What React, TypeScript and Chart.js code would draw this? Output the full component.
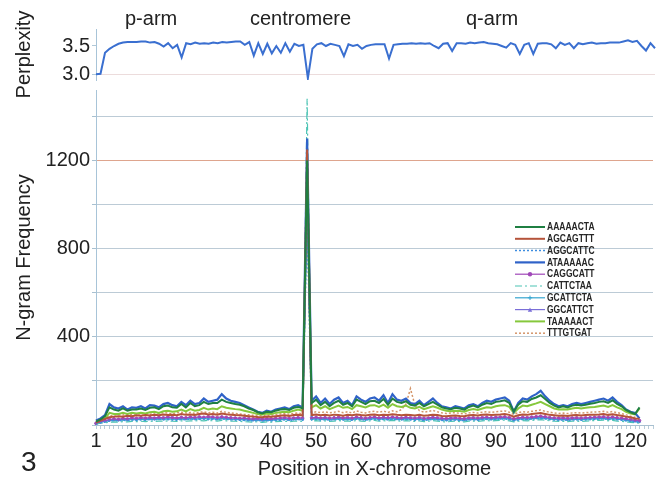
import React, { useEffect, useRef } from "react";
import { Chart, registerables } from "chart.js";
Chart.register(...registerables);

const FONT = "'Liberation Sans', Arial, Helvetica, sans-serif";

const POSITIONS: string[] = Array.from({ length: 125 }, (_, i) => String(i + 1));
const X_TICK_LABELS = ["1", "10", "20", "30", "40", "50", "60", "70", "80", "90", "100", "110", "120"];
const PERP_TICKS = [3.0, 3.5];
const FREQ_TICKS = [0, 200, 400, 600, 800, 1000, 1200, 1400];
const FREQ_LABELS = [400, 800, 1200];
const REGION_LABELS = ["p-arm", "centromere", "q-arm"];

const PERPLEXITY = [
  3.00, 3.01, 3.38, 3.45, 3.50, 3.54, 3.56, 3.57, 3.57, 3.57,
  3.58, 3.58, 3.56, 3.57, 3.54, 3.49, 3.55, 3.46, 3.52, 3.30,
  3.55, 3.53, 3.56, 3.54, 3.55, 3.54, 3.56, 3.55, 3.57, 3.56,
  3.57, 3.58, 3.58, 3.52, 3.57, 3.33, 3.55, 3.36, 3.54, 3.37,
  3.50, 3.38, 3.55, 3.40, 3.54, 3.50, 3.52, 2.93, 3.45, 3.53,
  3.55, 3.50, 3.54, 3.52, 3.50, 3.32, 3.53, 3.50, 3.52, 3.45,
  3.50, 3.52, 3.53, 3.53, 3.53, 3.28, 3.52, 3.53, 3.54, 3.54,
  3.55, 3.54, 3.55, 3.54, 3.55, 3.50, 3.46, 3.54, 3.55, 3.41,
  3.55, 3.55, 3.54, 3.56, 3.55, 3.56, 3.57, 3.55, 3.54, 3.53,
  3.50, 3.47, 3.55, 3.52, 3.36, 3.52, 3.55, 3.36, 3.54, 3.55,
  3.55, 3.53, 3.46, 3.56, 3.52, 3.55, 3.46, 3.55, 3.53, 3.55,
  3.56, 3.54, 3.55, 3.55, 3.56, 3.56, 3.56, 3.58, 3.60, 3.57,
  3.59, 3.50, 3.42, 3.55, 3.46,
];

const AAAAACTA = [
  15, 25, 40, 80, 70, 65, 75, 65, 70, 70,
  75, 68, 78, 80, 72, 85, 88, 80, 78, 95,
  80, 100, 85, 90, 105, 95, 100, 100, 115, 105,
  100, 95, 92, 85, 75, 68, 58, 52, 60, 58,
  65, 70, 72, 68, 78, 82, 75, 1200, 100, 115,
  90, 105, 85, 100, 110, 92, 100, 85, 115, 105,
  95, 108, 110, 100, 118, 92, 120, 105, 100, 108,
  92, 88, 100, 85, 95, 105, 92, 80, 75, 72,
  78, 75, 70, 82, 88, 80, 92, 100, 95, 105,
  108, 112, 100, 62, 92, 108, 105, 118, 125, 135,
  118, 100, 88, 80, 85, 80, 88, 92, 88, 92,
  96, 100, 105, 108, 100, 112, 96, 85, 68, 58,
  50, 80, null, null, null,
];
const AGCAGTTT = [
  10, 20, 28, 35, 38, 40, 38, 42, 40, 44,
  42, 45, 43, 46, 44, 48, 45, 47, 44, 50,
  46, 48, 45, 50, 52, 48, 50, 47, 52, 49,
  47, 45, 44, 42, 40, 38, 36, 35, 38, 37,
  40, 42, 44, 41, 45, 46, 43, 1250, 45, 48,
  44, 46, 43, 47, 45, 42, 46, 44, 48, 45,
  43, 46, 48, 44, 47, 45, 49, 46, 44, 47,
  45, 43, 46, 42, 44, 47, 45, 41, 40, 42,
  43, 41, 40, 44, 45, 43, 46, 48, 45, 47,
  48, 50, 46, 38, 44, 48, 46, 50, 52, 54,
  50, 46, 44, 42, 43, 41, 44, 45, 43, 45,
  46, 47, 48, 50, 46, 49, 45, 42, 38, 35,
  30, 28, null, null, null,
];
const AGGCATTC = [
  5, 10, 14, 18, 20, 19, 22, 20, 23, 21,
  24, 22, 25, 23, 26, 24, 25, 23, 22, 26,
  24, 27, 25, 26, 28, 25, 27, 24, 28, 26,
  24, 23, 22, 21, 20, 19, 21, 18, 20, 19,
  21, 22, 24, 21, 23, 25, 22, 950, 24, 26,
  23, 25, 22, 24, 26, 23, 25, 22, 27, 24,
  22, 25, 27, 23, 26, 24, 27, 25, 23, 26,
  24, 22, 25, 21, 23, 26, 24, 21, 20, 22,
  23, 21, 20, 23, 24, 22, 25, 26, 24, 26,
  27, 28, 25, 19, 23, 26, 25, 27, 29, 30,
  28, 25, 23, 22, 23, 21, 23, 24, 22, 24,
  25, 26, 27, 28, 25, 27, 24, 22, 19, 17,
  14, 12, null, null, null,
];
const ATAAAAAC = [
  20, 30, 45, 95, 80, 75, 85, 70, 80, 78,
  85, 75, 90, 88, 80, 95, 100, 90, 85, 105,
  90, 110, 95, 100, 120, 105, 110, 115, 140, 120,
  110, 105, 100, 90, 80, 70, 60, 55, 65, 60,
  70, 75, 80, 72, 85, 90, 80, 1300, 110, 130,
  100, 120, 95, 115, 125, 100, 110, 90, 130, 115,
  105, 120, 125, 110, 135, 100, 140, 115, 110, 120,
  100, 95, 110, 90, 105, 120, 100, 85, 80, 75,
  85, 80, 75, 90, 95, 85, 100, 110, 105, 115,
  120, 125, 110, 60, 100, 120, 115, 130, 140, 155,
  130, 110, 95, 85, 90, 85, 95, 100, 95, 100,
  105, 110, 115, 120, 110, 125, 105, 90, 70, 60,
  55, 30, null, null, null,
];
const CAGGCATT = [
  8, 15, 20, 25, 28, 26, 30, 28, 32, 30,
  33, 31, 34, 32, 35, 33, 36, 34, 32, 35,
  33, 36, 34, 37, 35, 38, 36, 34, 37, 35,
  33, 32, 30, 31, 29, 28, 30, 27, 29, 28,
  30, 31, 33, 30, 32, 34, 31, 1050, 33, 35,
  32, 34, 31, 33, 35, 32, 34, 31, 36, 33,
  31, 34, 36, 32, 35, 33, 36, 34, 32, 35,
  33, 31, 34, 30, 32, 35, 33, 30, 29, 31,
  32, 30, 29, 32, 33, 31, 34, 35, 33, 35,
  36, 37, 34, 28, 32, 35, 34, 36, 38, 40,
  37, 34, 32, 31, 32, 30, 32, 33, 31, 33,
  34, 35, 36, 37, 34, 36, 33, 31, 28, 25,
  22, 20, null, null, null,
];
const CATTCTAA = [
  4, 8, 10, 12, 14, 13, 15, 14, 16, 15,
  17, 15, 18, 16, 18, 17, 19, 17, 16, 19,
  17, 19, 18, 20, 19, 21, 19, 18, 21, 19,
  18, 17, 16, 15, 14, 13, 15, 12, 14, 13,
  15, 16, 17, 15, 17, 18, 16, 1480, 18, 20,
  17, 19, 16, 18, 20, 17, 19, 16, 21, 18,
  16, 19, 21, 17, 20, 18, 21, 19, 17, 20,
  18, 16, 19, 15, 17, 20, 18, 15, 14, 16,
  17, 15, 14, 17, 18, 16, 19, 20, 18, 20,
  21, 22, 19, 14, 17, 20, 19, 21, 23, 24,
  22, 19, 17, 16, 17, 15, 17, 18, 16, 18,
  19, 20, 21, 22, 19, 21, 18, 16, 14, 12,
  10, 8, null, null, null,
];
const GCATTCTA = [
  6, 12, 16, 20, 22, 21, 24, 22, 25, 23,
  26, 24, 27, 25, 27, 26, 28, 26, 25, 28,
  26, 29, 27, 28, 30, 27, 29, 26, 30, 28,
  26, 25, 24, 23, 22, 21, 23, 20, 22, 21,
  23, 24, 26, 23, 25, 27, 24, 1000, 26, 28,
  25, 27, 24, 26, 28, 25, 27, 24, 29, 26,
  24, 27, 29, 25, 28, 26, 29, 27, 25, 28,
  26, 24, 27, 23, 25, 28, 26, 23, 22, 24,
  25, 23, 22, 25, 26, 24, 27, 28, 26, 28,
  29, 30, 27, 21, 25, 28, 27, 29, 31, 32,
  30, 27, 25, 24, 25, 23, 25, 26, 24, 26,
  27, 28, 29, 30, 27, 29, 26, 24, 21, 19,
  16, 14, null, null, null,
];
const GGCATTCT = [
  7, 14, 18, 22, 25, 23, 27, 25, 28, 26,
  29, 27, 30, 28, 31, 29, 32, 30, 28, 31,
  29, 32, 30, 33, 31, 34, 32, 30, 33, 31,
  29, 28, 27, 26, 25, 24, 26, 23, 25, 24,
  26, 27, 29, 26, 28, 30, 27, 1150, 29, 31,
  28, 30, 27, 29, 31, 28, 30, 27, 32, 29,
  27, 30, 32, 28, 31, 29, 32, 30, 28, 31,
  29, 27, 30, 26, 28, 31, 29, 26, 25, 27,
  28, 26, 25, 28, 29, 27, 30, 31, 29, 31,
  32, 33, 30, 24, 28, 31, 30, 32, 34, 36,
  33, 30, 28, 27, 28, 26, 28, 29, 27, 29,
  30, 31, 32, 33, 30, 32, 29, 27, 24, 21,
  18, 16, null, null, null,
];
const TAAAAACT = [
  12, 20, 30, 55, 50, 50, 55, 50, 55, 52,
  55, 52, 58, 60, 55, 62, 65, 60, 62, 70,
  62, 72, 65, 68, 78, 70, 75, 72, 85, 78,
  75, 72, 70, 65, 60, 55, 50, 48, 52, 50,
  55, 58, 60, 58, 65, 70, 65, 1100, 80, 90,
  75, 85, 72, 80, 88, 78, 82, 72, 90, 85,
  80, 88, 90, 82, 92, 78, 95, 85, 82, 88,
  78, 75, 82, 72, 78, 85, 78, 70, 65, 62,
  65, 63, 60, 68, 72, 68, 75, 80, 78, 85,
  88, 90, 82, 55, 75, 88, 85, 92, 98, 105,
  95, 85, 75, 70, 72, 70, 75, 78, 75, 78,
  80, 82, 85, 88, 82, 90, 80, 72, 60, 52,
  48, 75, null, null, null,
];
const TTTGTGAT = [
  10, 20, 30, 40, 45, 48, 45, 50, 47, 52,
  50, 53, 48, 55, 52, 56, 54, 50, 55, 58,
  54, 57, 52, 58, 60, 55, 58, 54, 62, 57,
  55, 52, 50, 48, 46, 44, 45, 42, 46, 44,
  48, 50, 52, 49, 53, 55, 50, 1000, 55, 60,
  56, 60, 55, 58, 62, 56, 60, 54, 64, 58,
  55, 60, 62, 58, 63, 57, 64, 60, 70, 95,
  165, 90, 65, 58, 62, 66, 60, 55, 52, 55,
  56, 53, 50, 55, 57, 54, 58, 60, 57, 60,
  62, 64, 58, 48, 56, 60, 58, 62, 65, 68,
  62, 58, 55, 52, 54, 52, 55, 56, 54, 56,
  58, 59, 60, 62, 58, 61, 56, 52, 46, 40,
  35, 30, null, null, null,
];

const SERIES = [
  { label: "AAAAACTA", data: AAAAACTA, color: "#1f7f42", width: 2, dash: [] as number[], point: "" },
  { label: "AGCAGTTT", data: AGCAGTTT, color: "#b5533a", width: 2, dash: [], point: "" },
  { label: "AGGCATTC", data: AGGCATTC, color: "#3d8de0", width: 1.5, dash: [2, 2], point: "" },
  { label: "ATAAAAAC", data: ATAAAAAC, color: "#2f62c8", width: 2.2, dash: [], point: "" },
  { label: "CAGGCATT", data: CAGGCATT, color: "#a048b8", width: 1.2, dash: [], point: "circle" },
  { label: "CATTCTAA", data: CATTCTAA, color: "#4cc4b4", width: 1.2, dash: [7, 3, 2, 3], point: "" },
  { label: "GCATTCTA", data: GCATTCTA, color: "#35a5d0", width: 1.2, dash: [], point: "cross" },
  { label: "GGCATTCT", data: GGCATTCT, color: "#7a6ed8", width: 1.2, dash: [], point: "triangle" },
  { label: "TAAAAACT", data: TAAAAACT, color: "#86c83c", width: 2, dash: [], point: "" },
  { label: "TTTGTGAT", data: TTTGTGAT, color: "#d4956a", width: 1.5, dash: [2, 2], point: "" },
];

const drawMarker = (ctx: CanvasRenderingContext2D, style: string, x: number, y: number, r: number, color: string) => {
  ctx.save();
  ctx.setLineDash([]);
  ctx.fillStyle = color;
  ctx.strokeStyle = color;
  ctx.lineWidth = 1;
  ctx.beginPath();
  if (style === "circle") {
    ctx.arc(x, y, r, 0, Math.PI * 2);
    ctx.fill();
  } else if (style === "cross") {
    ctx.moveTo(x, y - r);
    ctx.lineTo(x, y + r);
    ctx.moveTo(x - r, y);
    ctx.lineTo(x + r, y);
    ctx.stroke();
  } else if (style === "triangle") {
    ctx.moveTo(x, y - r);
    ctx.lineTo(x + r, y + r);
    ctx.lineTo(x - r, y + r);
    ctx.closePath();
    ctx.fill();
  }
  ctx.restore();
};

const BOTTOM_TOP = 76;

const inlineLegend = {
  id: "inlineLegend",
  afterDatasetsDraw(chart: any) {
    const ctx: CanvasRenderingContext2D = chart.ctx;
    ctx.save();
    ctx.textBaseline = "middle";
    ctx.textAlign = "left";
    SERIES.forEach((s, i) => {
      const y = 227 - BOTTOM_TOP + i * 11.8;
      ctx.strokeStyle = s.color;
      ctx.lineWidth = s.width;
      ctx.setLineDash(s.dash);
      ctx.beginPath();
      ctx.moveTo(515, y);
      ctx.lineTo(545, y);
      ctx.stroke();
      if (s.point) drawMarker(ctx, s.point, 530, y, 2.2, s.color);
      ctx.save();
      ctx.translate(547, y + 0.5);
      ctx.scale(0.85, 1);
      ctx.font = `bold 10px ${FONT}`;
      ctx.fillStyle = "#262626";
      ctx.fillText(s.label, 0, 0);
      ctx.restore();
    });
    ctx.restore();
  },
};

export default function App() {
  const topRef = useRef<HTMLCanvasElement>(null);
  const botRef = useRef<HTMLCanvasElement>(null);

  useEffect(() => {
    const tickFont = { family: FONT, size: 20 };
    const top = new Chart(topRef.current!, {
      type: "line",
      data: {
        labels: POSITIONS,
        datasets: [
          {
            label: "Perplexity",
            data: PERPLEXITY,
            borderColor: "#3a6fd0",
            borderWidth: 2,
            pointRadius: 0,
            tension: 0,
          },
        ],
      },
      options: {
        responsive: false,
        animation: false,
        layout: { padding: { left: 0, right: 3, top: 29, bottom: 30 } },
        plugins: { legend: { display: false }, tooltip: { enabled: false } },
        scales: {
          x: { type: "category", display: false, offset: false },
          y: {
            min: 2.9,
            max: 3.8,
            afterBuildTicks: (axis: any) => {
              axis.ticks = PERP_TICKS.map((v) => ({ value: v }));
            },
            afterFit: (axis: any) => {
              axis.width = 96;
            },
            ticks: {
              font: tickFont,
              color: "#222",
              padding: 2,
              callback: (v: any) => Number(v).toFixed(1),
            },
            grid: {
              color: (c: any) => (c.tick && c.tick.value === 3 ? "#ecdcdc" : "rgba(0,0,0,0)"),
              tickColor: "#b0c8d8",
              tickLength: 4,
            },
            border: { color: "#a8c4d8", width: 1 },
            title: {
              display: true,
              text: "Perplexity",
              font: { family: FONT, size: 20 },
              color: "#222",
              padding: { top: 12, bottom: 0 },
            },
          },
        },
      },
    });

    const bot = new Chart(botRef.current!, {
      type: "line",
      data: {
        labels: POSITIONS,
        datasets: SERIES.map((s) => ({
          label: s.label,
          data: s.data,
          borderColor: s.color,
          backgroundColor: s.color,
          borderWidth: s.width,
          borderDash: s.dash,
          pointStyle: (s.point || "circle") as any,
          pointRadius: s.point ? 1.3 : 0,
          pointBorderWidth: 1,
          tension: 0,
          spanGaps: false,
        })),
      },
      options: {
        responsive: false,
        animation: false,
        layout: { padding: { left: 0, right: 3, top: 0, bottom: 2 } },
        plugins: { legend: { display: false }, tooltip: { enabled: false } },
        scales: {
          x: {
            type: "category",
            offset: false,
            grid: {
              display: true,
              drawOnChartArea: false,
              drawTicks: true,
              tickLength: 4,
              color: "#b8ccd8",
            },
            border: { color: "#a8c0d0", width: 1 },
            ticks: {
              autoSkip: false,
              maxRotation: 0,
              minRotation: 0,
              padding: 0,
              font: tickFont,
              color: "#222",
              callback: function (this: any, v: any, i: number) {
                const lab = POSITIONS[i];
                return X_TICK_LABELS.includes(lab) ? lab : "";
              },
            },
            title: {
              display: true,
              text: "Position in X-chromosome",
              font: { family: FONT, size: 20 },
              color: "#222",
              padding: { top: 4, bottom: 0 },
            },
          },
          y: {
            min: 0,
            max: 1520,
            afterBuildTicks: (axis: any) => {
              axis.ticks = FREQ_TICKS.map((v) => ({ value: v }));
            },
            afterFit: (axis: any) => {
              axis.width = 96;
            },
            ticks: {
              font: tickFont,
              color: "#222",
              padding: 2,
              callback: (v: any) => (FREQ_LABELS.includes(Number(v)) ? String(v) : ""),
            },
            grid: {
              color: (c: any) =>
                c.tick && c.tick.value === 1200 ? "#dea58e" : c.tick && c.tick.value === 0 ? "#a8c0d0" : "#bccbd6",
              tickColor: "#a8c0d0",
              tickLength: 4,
            },
            border: { color: "#a8c4d8", width: 1 },
            title: {
              display: true,
              text: "N-gram Frequency",
              font: { family: FONT, size: 20 },
              color: "#222",
              padding: { top: 12, bottom: 0 },
            },
          },
        },
      },
      plugins: [inlineLegend],
    });

    return () => {
      top.destroy();
      bot.destroy();
    };
  }, []);

  const labelStyle: React.CSSProperties = {
    position: "absolute",
    top: 6,
    fontFamily: FONT,
    fontSize: 20,
    lineHeight: "24px",
    color: "#222",
    whiteSpace: "nowrap",
  };

  return (
    <div
      style={{
        position: "absolute",
        left: 0,
        top: 0,
        width: 658,
        height: 483,
        background: "#ffffff",
        overflow: "hidden",
      }}
    >
      <canvas
        ref={botRef}
        width={658}
        height={483 - BOTTOM_TOP}
        style={{ position: "absolute", left: 0, top: BOTTOM_TOP }}
      />
      <canvas ref={topRef} width={658} height={110} style={{ position: "absolute", left: 0, top: 0 }} />
      <div style={{ ...labelStyle, left: 125 }}>{REGION_LABELS[0]}</div>
      <div style={{ ...labelStyle, left: 250 }}>{REGION_LABELS[1]}</div>
      <div style={{ ...labelStyle, left: 466 }}>{REGION_LABELS[2]}</div>
      <div
        style={{
          position: "absolute",
          left: 21,
          top: 448,
          fontFamily: FONT,
          fontSize: 28,
          lineHeight: "28px",
          color: "#222",
        }}
      >
        3
      </div>
    </div>
  );
}
